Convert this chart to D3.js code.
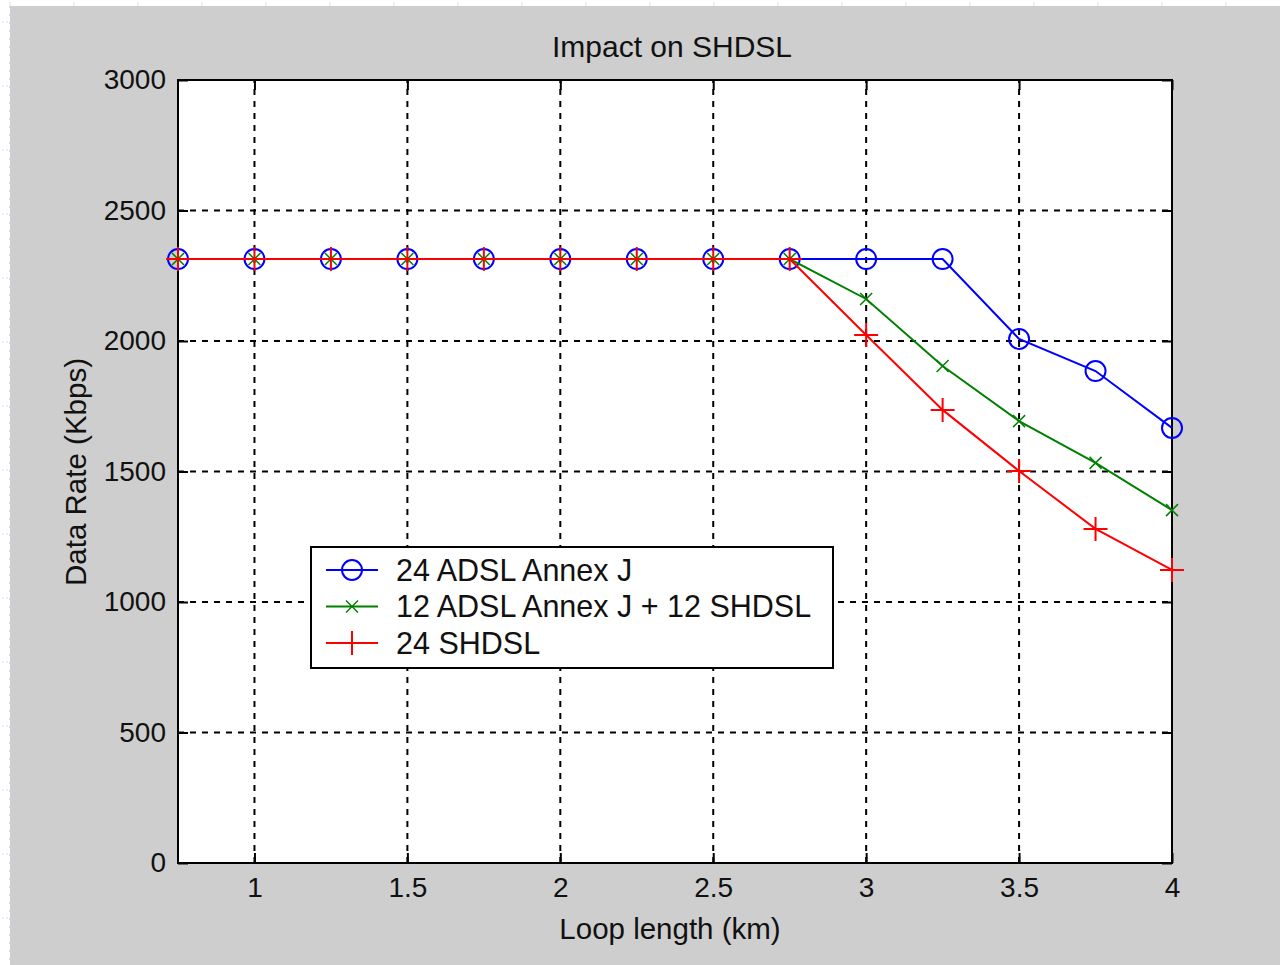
<!DOCTYPE html>
<html>
<head>
<meta charset="utf-8">
<script src="https://cdn.jsdelivr.net/npm/d3@7"></script>
<style>
  html, body { margin: 0; padding: 0; background: #fff; }
  svg { display: block; font-family: "Liberation Sans", Arial, sans-serif; }
</style>
</head>
<body>
<svg id="chart" width="1280" height="965"></svg>
<script>
// loop length (km)
const loopLength = [0.75, 1, 1.25, 1.5, 1.75, 2, 2.25, 2.5, 2.75, 3, 3.25, 3.5, 3.75, 4];

// data rate (Kbps) per configuration
const adslAnnexJ = [2314, 2314, 2314, 2314, 2314, 2314, 2314, 2314, 2314, 2314, 2314, 2008, 1885, 1667];
const mixed = [2314, 2314, 2314, 2314, 2314, 2314, 2314, 2314, 2314, 2161, 1904, 1693, 1533, 1352];
const shdsl = [2314, 2314, 2314, 2314, 2314, 2314, 2314, 2314, 2314, 2023, 1736, 1502, 1280, 1123];

const seriesNames = ["24 ADSL Annex J", "12 ADSL Annex J + 12 SHDSL", "24 SHDSL"];
const xTicks = [1, 1.5, 2, 2.5, 3, 3.5, 4];
const yTicks = [0, 500, 1000, 1500, 2000, 2500, 3000];

const series = [
  { name: seriesNames[0], values: adslAnnexJ, color: "#0000ff", marker: "circle" },
  { name: seriesNames[1], values: mixed, color: "#008000", marker: "x" },
  { name: seriesNames[2], values: shdsl, color: "#ff0000", marker: "plus" }
];

const svg = d3.select("#chart");
const plot = { left: 178, right: 1172, top: 80, bottom: 863 };

// figure background
svg.append("rect").attr("x", 10).attr("y", 6).attr("width", 1270).attr("height", 959).attr("fill", "#cecece");

// faint ruler marks along top and left edges
const ruler = svg.append("g").attr("stroke", "#d4daf6").attr("stroke-width", 1);
ruler.append("line").attr("x1", 9.5).attr("x2", 9.5).attr("y1", 6).attr("y2", 965).attr("stroke-dasharray", "2,6");
d3.range(10, 1280, 64).forEach(x => ruler.append("line").attr("x1", x).attr("x2", x).attr("y1", 2).attr("y2", 6));
d3.range(22, 965, 64).forEach(y => ruler.append("line").attr("x1", 2).attr("x2", 10).attr("y1", y).attr("y2", y).attr("stroke-dasharray", "2,2"));

const x = d3.scaleLinear().domain([0.75, 4]).range([plot.left, plot.right]);
const y = d3.scaleLinear().domain([0, 3000]).range([plot.bottom, plot.top]);

svg.append("rect")
  .attr("x", plot.left).attr("y", plot.top)
  .attr("width", plot.right - plot.left).attr("height", plot.bottom - plot.top)
  .attr("fill", "#fff");

// dashed grid
const grid = svg.append("g").attr("stroke", "#000").attr("stroke-width", 2).attr("stroke-dasharray", "6,6");
grid.selectAll(".gx").data(xTicks.filter(t => t < 4)).join("line")
  .attr("x1", d => x(d)).attr("x2", d => x(d)).attr("y1", plot.bottom).attr("y2", plot.top);
grid.selectAll(".gy").data(yTicks.filter(t => t > 0 && t < 3000)).join("line")
  .attr("y1", d => y(d)).attr("y2", d => y(d)).attr("x1", plot.left).attr("x2", plot.right);

// axes with inward ticks on all sides
const tickLen = 10;
const axisStyle = g => {
  g.select(".domain").remove();
  g.selectAll(".tick line").attr("stroke", "#000").attr("stroke-width", 2);
  g.selectAll(".tick text").attr("fill", "#111").attr("font-size", 28);
};
svg.append("g").attr("transform", `translate(0,${plot.bottom})`)
  .call(d3.axisBottom(x).tickValues(xTicks).tickSize(-tickLen).tickPadding(14).tickFormat(d3.format("")))
  .call(axisStyle).call(g => g.selectAll(".tick text").attr("dy", "0.71em"));
svg.append("g").attr("transform", `translate(0,${plot.top})`)
  .call(d3.axisTop(x).tickValues(xTicks).tickSize(-tickLen).tickFormat(""))
  .call(axisStyle);
svg.append("g").attr("transform", `translate(${plot.left},0)`)
  .call(d3.axisLeft(y).tickValues(yTicks).tickSize(-tickLen).tickPadding(12).tickFormat(d3.format("")))
  .call(axisStyle);
svg.append("g").attr("transform", `translate(${plot.right},0)`)
  .call(d3.axisRight(y).tickValues(yTicks).tickSize(-tickLen).tickFormat(""))
  .call(axisStyle);

svg.append("rect")
  .attr("x", plot.left).attr("y", plot.top)
  .attr("width", plot.right - plot.left).attr("height", plot.bottom - plot.top)
  .attr("fill", "none").attr("stroke", "#000").attr("stroke-width", 2);

// markers
function drawMarker(g, type, color, cx, cy) {
  if (type === "circle") {
    g.append("circle").attr("cx", cx).attr("cy", cy).attr("r", 10)
      .attr("fill", "none").attr("stroke", color).attr("stroke-width", 2);
  } else if (type === "x") {
    const s = 6;
    g.append("path").attr("d", `M${cx - s},${cy - s}L${cx + s},${cy + s}M${cx - s},${cy + s}L${cx + s},${cy - s}`)
      .attr("stroke", color).attr("stroke-width", 1.5).attr("fill", "none");
  } else {
    const s = 12;
    g.append("path").attr("d", `M${cx - s},${cy}L${cx + s},${cy}M${cx},${cy - s}L${cx},${cy + s}`)
      .attr("stroke", color).attr("stroke-width", 2).attr("fill", "none");
  }
}

const line = d3.line().x(d => x(d[0])).y(d => y(d[1]));
series.forEach(s => {
  const pts = loopLength.map((l, i) => [l, s.values[i]]);
  const g = svg.append("g");
  g.append("path").datum(pts).attr("d", line)
    .attr("fill", "none").attr("stroke", s.color).attr("stroke-width", 2);
  pts.forEach(p => drawMarker(g, s.marker, s.color, x(p[0]), y(p[1])));
});

// legend
const legend = svg.append("g");
legend.append("rect").attr("x", 311).attr("y", 547).attr("width", 522).attr("height", 121)
  .attr("fill", "#fff").attr("stroke", "#000").attr("stroke-width", 2);
series.forEach((s, i) => {
  const ly = 570 + i * 36.5;
  legend.append("line").attr("x1", 326).attr("x2", 378).attr("y1", ly).attr("y2", ly)
    .attr("stroke", s.color).attr("stroke-width", 2);
  drawMarker(legend, s.marker, s.color, 352, ly);
  legend.append("text").attr("x", 396).attr("y", ly).attr("dy", "0.36em")
    .attr("font-size", 30.5).attr("fill", "#111").text(s.name);
});

// titles
svg.append("text").attr("x", 672).attr("y", 46).attr("dy", "0.36em").attr("text-anchor", "middle")
  .attr("font-size", 30).attr("fill", "#111").text("Impact on SHDSL");
svg.append("text").attr("x", 670).attr("y", 928).attr("dy", "0.36em").attr("text-anchor", "middle")
  .attr("font-size", 29.5).attr("fill", "#111").text("Loop length (km)");
svg.append("text").attr("transform", "translate(75,472) rotate(-90)").attr("dy", "0.36em").attr("text-anchor", "middle")
  .attr("font-size", 29.5).attr("fill", "#111").text("Data Rate (Kbps)");
</script>
</body>
</html>
